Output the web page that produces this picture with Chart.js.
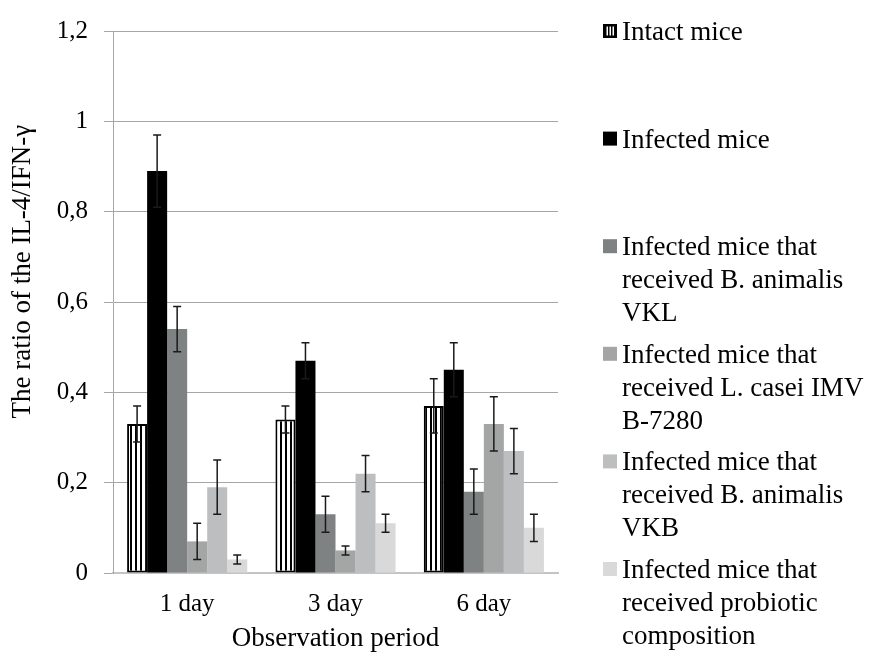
<!DOCTYPE html>
<html>
<head>
<meta charset="utf-8">
<script src="https://cdn.jsdelivr.net/npm/chart.js@4/dist/chart.umd.min.js"></script>
<style>
  html, body { margin: 0; padding: 0; background: #fff; }
</style>
</head>
<body>
<canvas id="chart" width="873" height="658"></canvas>
<script>
// data
const periods = ["1 day", "3 day", "6 day"];
const yTicks = [0, 0.2, 0.4, 0.6, 0.8, 1, 1.2];

const intactMice = [0.33, 0.34, 0.37];
const infectedMice = [0.89, 0.47, 0.45];
const animalisVKL = [0.54, 0.13, 0.18];
const caseiIMV = [0.07, 0.05, 0.33];
const animalisVKB = [0.19, 0.22, 0.27];
const probioticMix = [0.03, 0.11, 0.10];

const intactErr = [0.04, 0.03, 0.06];
const infectedErr = [0.08, 0.04, 0.06];
const vklErr = [0.05, 0.04, 0.05];
const caseiErr = [0.04, 0.01, 0.06];
const vkbErr = [0.06, 0.04, 0.05];
const probioticErr = [0.01, 0.02, 0.03];

const legendLines = [
  ["Intact mice"],
  ["Infected mice"],
  ["Infected mice that", "received B. animalis", "VKL"],
  ["Infected mice that", "received L. casei IMV", "B-7280"],
  ["Infected mice that", "received B. animalis", "VKB"],
  ["Infected mice that", "received probiotic", "composition"],
];

const FONT = "'Liberation Serif', 'Times New Roman', serif";
const ctx = document.getElementById("chart").getContext("2d");

// vertical stripes for the intact group
function stripePattern() {
  const c = document.createElement("canvas");
  c.width = 5;
  c.height = 4;
  const g = c.getContext("2d");
  g.fillStyle = "#fff";
  g.fillRect(0, 0, 5, 4);
  g.fillStyle = "#000";
  g.fillRect(0, 0, 2, 4);
  return ctx.createPattern(c, "repeat");
}
const stripes = stripePattern();

function bar(label, data, errors, fill, border, bw) {
  return {
    label: label,
    data: data,
    errors: errors,
    backgroundColor: fill,
    borderColor: border,
    borderWidth: bw,
    borderSkipped: false,
    categoryPercentage: 0.81,
    barPercentage: 1,
  };
}

// error bars drawn on top of the bars
const errorBars = {
  id: "errorBars",
  afterDatasetsDraw(chart) {
    const c = chart.ctx;
    const y = chart.scales.y;
    c.save();
    c.strokeStyle = "#1a1a1a";
    c.lineWidth = 1.5;
    chart.data.datasets.forEach((ds, i) => {
      const meta = chart.getDatasetMeta(i);
      meta.data.forEach((el, j) => {
        const v = ds.data[j];
        const e = ds.errors[j];
        const top = y.getPixelForValue(v + e);
        const bot = y.getPixelForValue(v - e);
        c.beginPath();
        c.moveTo(el.x, top);
        c.lineTo(el.x, bot);
        c.moveTo(el.x - 4, top);
        c.lineTo(el.x + 4, top);
        c.moveTo(el.x - 4, bot);
        c.lineTo(el.x + 4, bot);
        c.stroke();
      });
    });
    c.restore();
  },
};

// legend on the right, like the original spreadsheet chart
const sideLegend = {
  id: "sideLegend",
  afterDraw(chart) {
    const c = chart.ctx;
    c.save();
    c.font = "27px " + FONT;
    c.textBaseline = "alphabetic";
    c.textAlign = "left";
    chart.data.datasets.forEach((ds, i) => {
      const base = 40 + i * 107.6;
      const bx = 603, by = base - 16;
      if (i === 0) {
        // black key with white slits
        c.fillStyle = "#000";
        c.fillRect(bx, by, 14, 14);
        c.fillStyle = "#fff";
        [3.5, 6.5, 9.5].forEach((sx) => c.fillRect(bx + sx, by + 2.5, 1.5, 9));
      } else {
        c.fillStyle = ds.backgroundColor;
        c.fillRect(bx, by, 14, 14);
      }
      c.fillStyle = "#000";
      legendLines[i].forEach((line, k) => {
        c.fillText(line, 622, base + k * 33);
      });
    });
    c.restore();
  },
};

new Chart(ctx, {
  type: "bar",
  data: {
    labels: periods,
    datasets: [
      bar("Intact mice", intactMice, intactErr, stripes, "#000", 2),
      bar("Infected mice", infectedMice, infectedErr, "#000", "#000", 0),
      bar("B. animalis VKL", animalisVKL, vklErr, "#7f8282", "#7f8282", 0),
      bar("L. casei IMV B-7280", caseiIMV, caseiErr, "#a4a6a6", "#a4a6a6", 0),
      bar("B. animalis VKB", animalisVKB, vkbErr, "#bdbebf", "#bdbebf", 0),
      bar("probiotic composition", probioticMix, probioticErr, "#d8d9d8", "#d8d9d8", 0),
    ],
  },
  options: {
    responsive: false,
    animation: false,
    devicePixelRatio: 1,
    layout: { padding: { top: 22, right: 315, left: 0, bottom: 0 } },
    plugins: {
      legend: { display: false },
      tooltip: { enabled: false },
    },
    scales: {
      x: {
        grid: { display: false, drawTicks: false },
        border: { display: true, color: "#c4c4c4", width: 2 },
        ticks: { color: "#000", font: { family: FONT, size: 25 }, padding: 16 },
        title: {
          display: true,
          text: "Observation period",
          color: "#000",
          font: { family: FONT, size: 27 },
          padding: { top: 0, bottom: 3 },
        },
        afterFit: (s) => { s.height = 85; },
      },
      y: {
        min: 0,
        max: 1.2,
        afterBuildTicks: (s) => { s.ticks = yTicks.map((v) => ({ value: v })); },
        grid: { color: "#a6a6a6", lineWidth: 1, tickLength: 9 },
        border: { display: true, color: "#a6a6a6", width: 1 },
        ticks: {
          color: "#000",
          font: { family: FONT, size: 25 },
          padding: 16,
          callback: (v) => String(Number(v.toFixed(1))).replace(".", ","),
        },
        title: {
          display: true,
          // leading spaces push the rotated title up, as in the original
          text: "\u00a0".repeat(9) + "The ratio of the IL-4/IFN-γ",
          color: "#000",
          font: { family: FONT, size: 27 },
          padding: { top: 7, bottom: 0 },
        },
        afterFit: (s) => { s.width = 113; },
      },
    },
  },
  plugins: [errorBars, sideLegend],
});
</script>
</body>
</html>
